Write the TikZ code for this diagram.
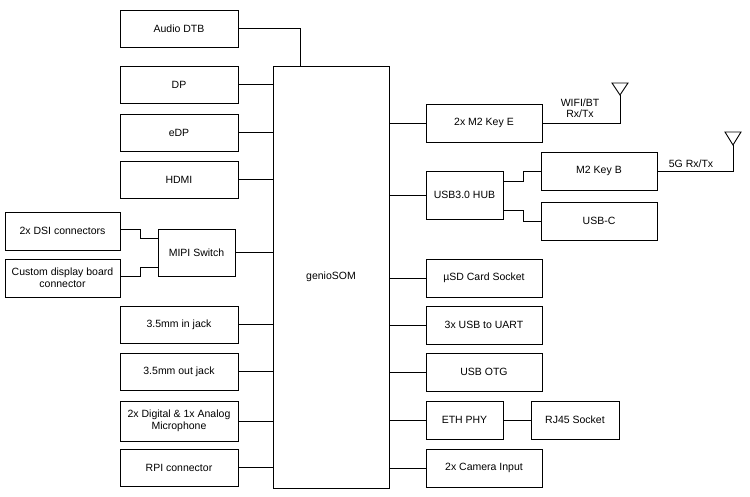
\documentclass[tikz,border=0pt]{standalone}
\usepackage{fontspec}
\setmainfont{Liberation Sans}
\begin{document}
\begin{tikzpicture}[x=1pt,y=-1pt,line width=0.9pt,
  box/.style={draw,rectangle,align=center,inner sep=0pt,font=\fontsize{10.5}{12}\selectfont},
  lbl/.style={align=center,inner sep=1pt,font=\fontsize{10.5}{11}\selectfont}]
\useasboundingbox (0,0) rectangle (750,497);
\newcommand\bx[6]{\node[box,minimum width=#4-#2,minimum height=#5-#3] (#1) at ({(#2+#4)/2},{(#3+#5)/2}) {#6};}
\bx{adtb}{120}{10}{238}{47}{Audio DTB}
\bx{dp}{120}{66}{238}{103}{DP}
\bx{edp}{120}{114}{238}{151}{eDP}
\bx{hdmi}{120}{161}{238}{198}{HDMI}
\bx{dsi}{5}{212}{120}{250}{2x DSI connectors}
\bx{cust}{5}{259}{120}{297}{Custom display board\\connector}
\bx{mipi}{158}{229}{235}{276}{MIPI Switch}
\bx{jin}{120}{306}{238}{343}{3.5mm in jack}
\bx{jout}{120}{353}{238}{390}{3.5mm out jack}
\bx{mic}{120}{401}{238}{441}{2x Digital \& 1x Analog\\Microphone}
\bx{rpi}{120}{449}{238}{486}{RPI connector}
\bx{som}{273}{66}{389}{488}{genioSOM}
\bx{m2e}{426}{104}{542}{142}{2x M2 Key E}
\bx{hub}{426}{171}{503}{219}{USB3.0 HUB}
\bx{m2b}{541}{152}{657}{190}{M2 Key B}
\bx{usbc}{541}{202}{657}{240}{USB-C}
\bx{sd}{426}{259}{542}{297}{µSD Card Socket}
\bx{uart}{426}{306}{542}{344}{3x USB to UART}
\bx{otg}{426}{353}{542}{391}{USB OTG}
\bx{eth}{426}{401}{503}{439}{ETH PHY}
\bx{rj}{531}{401}{619}{439}{RJ45 Socket}
\bx{cam}{426}{449}{542}{487}{2x Camera Input}
\draw (adtb.east) -| (som.north west -| 300,0);
\foreach \n in {dp,edp,hdmi,mipi,jin,jout,mic,rpi}{\draw (\n.east) -- (\n.east -| som.west);}
\foreach \n in {m2e,hub,sd,uart,otg,eth,cam}{\draw (\n.west) -- (\n.west -| som.east);}
\draw (eth) -- (rj);
\draw (dsi.east |- 0,229) -- (140,229) -- (140,238) -- (mipi.west |- 0,238);
\draw (cust.east |- 0,276) -- (140,276) -- (140,267) -- (mipi.west |- 0,267);
\draw (hub.east |- 0,181) -- (523,181) -- (523,171) -- (m2b.west);
\draw (hub.east |- 0,210) -- (523,210) -- (523,221) -- (usbc.west);
\coordinate (a1) at (620,95);
\coordinate (a2) at (733,145);
\draw (m2e.east) -| (a1);
\draw (m2b.east) -| (a2);
\draw (a1) -- (612,83) -- (628,83) -- cycle;
\draw (a2) -- (725,132) -- (741,132) -- cycle;
\node[lbl] (l1) at (580,108) {WIFI/BT\\Rx/Tx};
\node[lbl] (l2) at (691,164) {5G Rx/Tx};
\end{tikzpicture}
\end{document}
